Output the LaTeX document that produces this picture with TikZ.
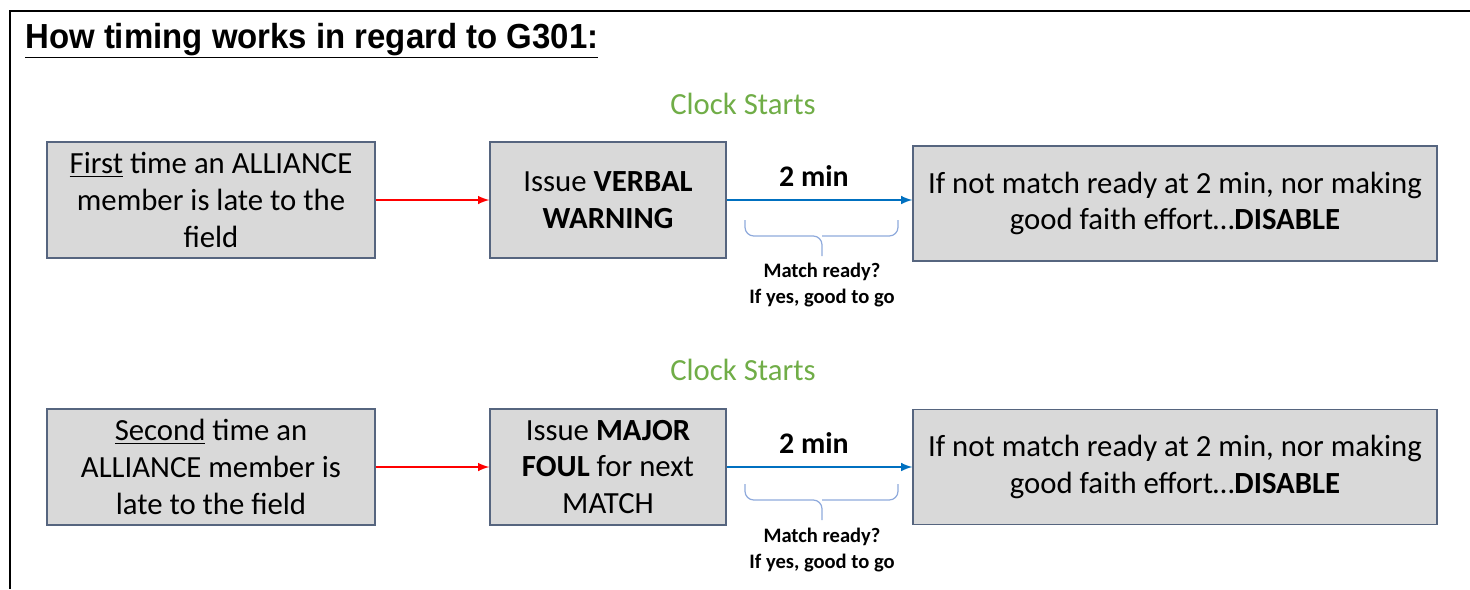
\documentclass[tikz,border=0pt]{standalone}
\usepackage{fontspec}
\setmainfont{Carlito}
\newfontfamily\titlefont{Liberation Sans}
\usepackage{xcolor}
\definecolor{boxfill}{HTML}{D9D9D9}
\definecolor{boxline}{HTML}{56657F}
\definecolor{clockgreen}{HTML}{70AD47}
\definecolor{minblue}{HTML}{0070C0}
\definecolor{bracecol}{HTML}{8FAADC}

\begin{document}
\begin{tikzpicture}[x=0.02cm, y=-0.02cm,
  box/.style={draw=boxline, fill=boxfill, line width=0.8pt, align=center, inner sep=0pt,
    font=\fontsize{17.5}{21}\selectfont, minimum height=2.32cm},
  clock/.style={text=clockgreen, font=\fontsize{17.5}{21}\selectfont},
  note/.style={align=center, font=\fontsize{11.7}{14.7}\selectfont\bfseries},
  link/.style={->, >=latex, line width=1.2pt}]
  \useasboundingbox (0,0) rectangle (1470,589);
  \draw[line width=1.6pt] (1470,11) -- (10,11) -- (10,589);
  \node[anchor=base west, inner sep=0pt, font=\titlefont\fontsize{19.8}{24}\selectfont\bfseries] (title) at (25,48)
    {\scalebox{0.947}[1]{\underline{How timing works in regard to G301:}}};

  % first time
  \draw[line width=0pt]
    (211,200) node[box, minimum width=6.56cm] (late1) {\underline{First} time an ALLIANCE\\member is late to the\\field}
    (608,200) node[box, minimum width=4.72cm] (issue1) {Issue \textbf{VERBAL}\\\textbf{WARNING}}
    (1175,203.5) node[box, minimum width=10.48cm, minimum height=2.3cm] (dis1) {If not match ready at 2 min, nor making\\good faith effort\dots\textbf{DISABLE}}
    (743,104) node[clock] (clk1) {Clock Starts}
    (822,285) node[note] (rdy1) {Match ready?\\If yes, good to go};

  \draw[link, red] (late1.east)--(late1.east -| issue1.west);
  \draw[link, minblue] (issue1.east)-- node[above=4pt, pos=0.47, text=black, font=\fontsize{17}{20}\selectfont\bfseries] (min1) {2 min} (issue1.east -| dis1.west);
  \draw[bracecol, line width=0.7pt, rounded corners=5pt] (745,220)--(745,236)--(822,236)--(822,256);
  \draw[bracecol, line width=0.7pt, rounded corners=5pt] (898,220)--(898,236)--(822,236);

  % second time
  \draw[line width=0pt]
    (211,467) node[box, minimum width=6.56cm] (late2) {\underline{Second} time an\\ALLIANCE member is\\late to the field}
    (608,467) node[box, minimum width=4.72cm] (issue2) {Issue \textbf{MAJOR}\\\textbf{FOUL} for next\\MATCH}
    (1175,467) node[box, minimum width=10.48cm, minimum height=2.3cm] (dis2) {If not match ready at 2 min, nor making\\good faith effort\dots\textbf{DISABLE}}
    (743,370) node[clock] (clk2) {Clock Starts}
    (822,550) node[note] (rdy2) {Match ready?\\If yes, good to go};

  \draw[link, red] (late2.east)--(issue2.west);
  \draw[link, minblue] (issue2.east)-- node[above=4pt, pos=0.47, text=black, font=\fontsize{17}{20}\selectfont\bfseries] (min2) {2 min} (issue2.east -| dis2.west);
  \draw[bracecol, line width=0.7pt, rounded corners=5pt] (745,484)--(745,500)--(822,500)--(822,520);
  \draw[bracecol, line width=0.7pt, rounded corners=5pt] (898,484)--(898,500)--(822,500);
\end{tikzpicture}
\end{document}
